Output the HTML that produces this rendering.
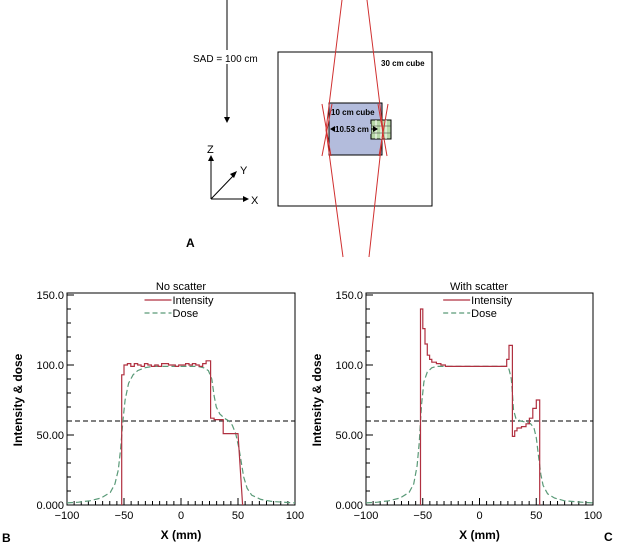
<!DOCTYPE html>
<html><head><meta charset="utf-8"><style>
body{margin:0;background:#fff}
svg{display:block;font-family:"Liberation Sans",Arial,sans-serif}
</style></head><body>
<svg id="s" width="617" height="544" viewBox="0 0 617 544">
<g>
  <line x1="227" y1="0" x2="227" y2="118" stroke="#000" stroke-width="1"/>
  <polygon points="224,117 230,117 227,123" fill="#000"/>
  <rect x="193" y="50" width="72" height="14" fill="#fff"/>
  <text x="193" y="62" font-size="10">SAD = 100 cm</text>
  <rect x="278" y="52" width="154" height="154" fill="none" stroke="#000"/>
  <text x="381" y="66" font-size="8" font-weight="bold">30 cm cube</text>
  <rect x="329" y="103" width="53" height="52" fill="#b3bcdc" stroke="#000"/>
  <text x="331" y="115" font-size="8" font-weight="bold">10 cm cube</text>
  <g>
    <rect x="371" y="120" width="20" height="19" fill="#b8d8a8" stroke="#000"/>
    <line x1="376" y1="120" x2="376" y2="139" stroke="#fff"/><line x1="381" y1="120" x2="381" y2="139" stroke="#fff"/><line x1="386" y1="120" x2="386" y2="139" stroke="#fff"/>
    <line x1="371" y1="126" x2="391" y2="126" stroke="#333" stroke-width="0.5"/><line x1="371" y1="133" x2="391" y2="133" stroke="#333" stroke-width="0.5"/>
  </g>
  <line x1="331" y1="129" x2="377" y2="129" stroke="#000"/>
  <polygon points="330,129 335,126 335,132" fill="#000"/><polygon points="378,129 373,126 373,132" fill="#000"/>
  <rect x="335" y="124" width="36" height="10" fill="#b3bcdc"/>
  <text x="335" y="132" font-size="8" font-weight="bold">10.53 cm</text>
  <g stroke="#d03030" stroke-width="1" fill="none">
    <polyline points="342,0 326,130 343,257"/>
    <polyline points="367,0 383,130 369,257"/>
    <line x1="322" y1="104" x2="331" y2="156"/><line x1="332" y1="104" x2="322" y2="156"/>
    <line x1="378" y1="104" x2="387" y2="156"/><line x1="388" y1="104" x2="379" y2="156"/>
  </g>
  <g>
    <line x1="211" y1="199" x2="211" y2="160" stroke="#000"/><polygon points="208,161 214,161 211,155" fill="#000"/>
    <line x1="211" y1="199" x2="244" y2="199" stroke="#000"/><polygon points="243,196 243,202 249,199" fill="#000"/>
    <line x1="211" y1="199" x2="234" y2="175" stroke="#000"/><polygon points="237,171 230,174 234,178" fill="#000"/>
    <text x="207" y="153" font-size="11">Z</text><text x="240" y="174" font-size="11">Y</text><text x="251" y="204" font-size="11">X</text>
  </g>
  <text x="186" y="247" font-size="12" font-weight="bold">A</text>
</g>
<g id="pb"></g>
<g id="pc"></g>
<text x="2" y="542" font-size="12" font-weight="bold">B</text>
<text x="604" y="541" font-size="12" font-weight="bold">C</text>
</svg>
<script>
const xTicks=[-100,-50,0,50,100];
const yTicks=[0,50,100,150];
const yTickLabels=["0.000","50.00","100.0","150.0"];
const refLevel=60;
// No scatter
const bEdges=[-52,-50,-47,-44,-41,-38,-35,-32,-29,-26,-23,-20,-17,-14,-11,-8,-5,-2,1,4,7,10,13,16,19,22,26,29,37,50,54];
const bIntensity=[93,100,101,99,101,100,99,101,100,99,100,99,101,101,100,100,99,100,100,101,100,101,100,99,101,103,62,61,51];
const bDoseX=[-100,-90,-80,-70,-62,-58,-55,-53,-51,-49,-46,-42,-38,-32,-25,-15,0,15,20,24,27,29,31,34,38,42,45,48,51,53,55,58,62,70,80,90,100];
const bDoseY=[1.5,2,3,5,9,15,25,40,60,75,87,93,96,98,99,99,99,99,98,96,90,78,70,65,62,60,57,51,40,30,20,12,7,4,2.5,2,1.5];
// With scatter
const cEdges=[-52,-50,-48,-46,-44,-42,-38,-34,-30,24,26,29,31,33,37,41,44,47,50,53];
const cIntensity=[140,126,115,107,104,102,101,100,99,104,114,49,53,55,56,58,62,69,75];
const cDoseX=[-100,-90,-80,-70,-62,-58,-55,-53,-52,-51,-49,-46,-42,-38,-32,-20,0,20,24,26,28,29,30,32,36,42,45,48,50,52,54,56,60,66,75,90,100];
const cDoseY=[1.5,2,3,5,9,15,28,45,60,72,88,95,98,99,99,99,99,99,99,97,90,80,68,62,60,59,58,55,48,35,22,14,8,5,3,2,1.5];

const NS='http://www.w3.org/2000/svg';
function el(p,t,a){const e=document.createElementNS(NS,t);for(const k in a)e.setAttribute(k,a[k]);p.appendChild(e);return e;}
function chart(g,x0,x1,title,edges,vals,dx,dy,titleX){
  const yB=505,yT=295;
  const sx=v=>x0+(v+100)/200*(x1-x0), sy=v=>yB-(v/150)*(yB-yT);
  const t=el(g,'text',{x:titleX,y:290,'font-size':11,'text-anchor':'middle'});t.textContent=title;
  
  
  const box=el(g,'rect',{x:x0,y:293,width:x1-x0,height:yB-293,fill:'none',stroke:'#000'});
  
  
  for(let v=-100;v<=100;v+=6.25){const big=xTicks.includes(v);el(g,'line',{x1:sx(v),x2:sx(v),y1:yB,y2:yB-(big?7:4),stroke:'#000'});}
  for(let v=0;v<=150;v+=10){const big=yTicks.includes(v);el(g,'line',{x1:x0,x2:x0+(big?7:4),y1:sy(v),y2:sy(v),stroke:'#000'});}
  xTicks.forEach(v=>{const e=el(g,'text',{x:sx(v),y:yB+14,'font-size':11,'text-anchor':'middle'});e.textContent=v<0?'\u2212'+(-v):v;
    
    });
  yTicks.forEach((v,i)=>{const e=el(g,'text',{x:x0-3,y:sy(v)+4,'font-size':11,'text-anchor':'end'});e.textContent=yTickLabels[i];
    
    });
  const yl=el(g,'text',{x:0,y:0,'font-size':12,'font-weight':'bold','text-anchor':'middle',transform:`translate(${x0-45},400) rotate(-90)`});yl.textContent='Intensity & dose';
  
  
  const xl=el(g,'text',{x:(x0+x1)/2,y:539,'font-size':12,'font-weight':'bold','text-anchor':'middle'});xl.textContent='X (mm)';
  
  
  const rl=el(g,'line',{x1:x0,x2:x1,y1:sy(refLevel),y2:sy(refLevel),stroke:'#000','stroke-dasharray':'5,3'});
  
  
  const dp=dx.map((x,i)=>sx(x).toFixed(1)+','+sy(dy[i]).toFixed(1)).join(' ');
  const d=el(g,'polyline',{points:dp,fill:'none',stroke:'#5a9a78','stroke-width':1.2,'stroke-dasharray':'6,3'});
  
  
  let pts=[[sx(edges[0]),yB]];
  vals.forEach((v,i)=>{pts.push([sx(edges[i]),sy(v)]);pts.push([sx(edges[i+1]),sy(v)]);});
  pts.push([sx(edges[edges.length-1]),yB]);
  const ip=el(g,'polyline',{points:pts.map(p=>p[0].toFixed(1)+','+p[1].toFixed(1)).join(' '),fill:'none',stroke:'#b03040','stroke-width':1.2});
  
  
  const lx=x0+(x1-x0)*0.34;
  el(g,'line',{x1:lx,x2:lx+27,y1:300,y2:300,stroke:'#b03040','stroke-width':1.2});
  el(g,'line',{x1:lx,x2:lx+27,y1:313,y2:313,stroke:'#5a9a78','stroke-width':1.2,'stroke-dasharray':'5,3'});
  const l1=el(g,'text',{x:lx+28,y:304,'font-size':11});l1.textContent='Intensity';
  
  
  const l2=el(g,'text',{x:lx+28,y:317,'font-size':11});l2.textContent='Dose';
  
  
}
chart(document.getElementById('pb'),67,295,'No scatter',bEdges,bIntensity,bDoseX,bDoseY,181);
chart(document.getElementById('pc'),366,593,'With scatter',cEdges,cIntensity,cDoseX,cDoseY,479);
</script>
</body></html>
